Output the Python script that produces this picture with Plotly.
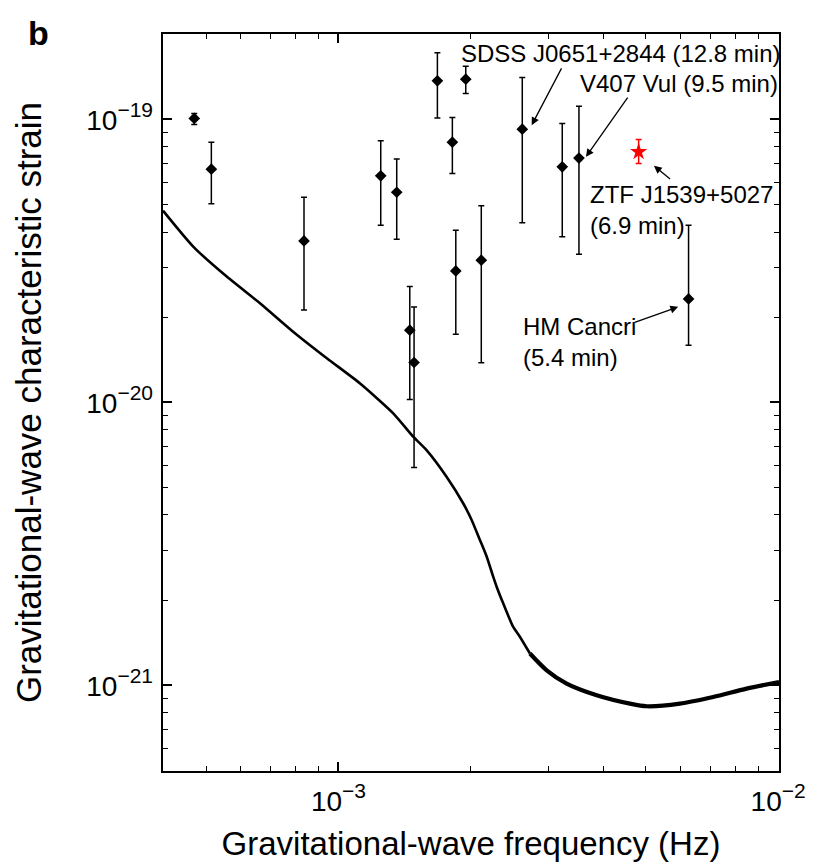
import plotly.graph_objects as go

# Verification binaries (black diamonds)
freq = [4.70e-4, 5.14e-4, 8.35e-4, 1.248e-3, 1.357e-3, 1.453e-3, 1.486e-3, 1.679e-3,
        1.816e-3, 1.849e-3, 1.948e-3, 2.113e-3, 2.619e-3, 3.229e-3, 3.524e-3, 6.256e-3]
strain = [1.008e-19, 6.67e-20, 3.72e-20, 6.32e-20, 5.53e-20, 1.80e-20, 1.383e-20, 1.369e-19,
          8.31e-20, 2.915e-20, 1.388e-19, 3.18e-20, 9.24e-20, 6.80e-20, 7.30e-20, 2.32e-20]
strain_hi = [1.05e-19, 8.31e-20, 5.31e-20, 8.40e-20, 7.24e-20, 2.57e-20, 2.175e-20, 1.72e-19,
             1.016e-19, 4.06e-20, 1.543e-19, 4.95e-20, 1.407e-19, 9.68e-20, 1.114e-19, 4.23e-20]
strain_lo = [9.6e-20, 5.03e-20, 2.12e-20, 4.23e-20, 3.77e-20, 1.023e-20, 5.88e-21, 1.011e-19,
             6.44e-20, 1.741e-20, 1.236e-19, 1.379e-20, 4.31e-20, 3.85e-20, 3.34e-20, 1.592e-20]

# ZTF J1539+5027 (red)
ztf_freq = [4.817e-3]
ztf_strain = [7.68e-20]
ztf_hi = [8.50e-20]
ztf_lo = [6.99e-20]

# LISA sensitivity curve (smooth low-frequency part)
curve_f = [3.99e-4, 4.68e-4, 5.58e-4, 6.64e-4, 7.90e-4, 9.41e-4, 1.120e-3, 1.334e-3, 1.481e-3,
           1.588e-3, 1.763e-3, 1.923e-3, 2.010e-3, 2.099e-3, 2.175e-3, 2.250e-3,
           2.291e-3, 2.371e-3, 2.498e-3, 2.588e-3, 2.726e-3]
curve_h = [4.76e-20, 3.545e-20, 2.777e-20, 2.236e-20, 1.774e-20, 1.432e-20, 1.166e-20, 9.13e-21,
           7.55e-21, 6.77e-21, 5.45e-21, 4.39e-21, 3.833e-21, 3.256e-21, 2.842e-21,
           2.415e-21, 2.226e-21, 1.944e-21, 1.607e-21, 1.482e-21, 1.295e-21]
# LISA sensitivity curve (noisy high-frequency part)
noisy_f = [2.726e-3, 2.976e-3, 3.304e-3, 3.867e-3, 4.603e-3, 5.022e-3, 5.978e-3, 7.116e-3,
           8.477e-3, 1.005e-2]
noisy_h = [1.295e-21, 1.130e-21, 1.014e-21, 9.22e-22, 8.61e-22, 8.43e-22, 8.61e-22, 9.09e-22,
           9.73e-22, 1.027e-21]

# tick positions and labels
SUP = "<span style='font-size:28px'>10</span><sup>−{}</sup>"
y_major = [1e-21, 1e-20, 1e-19]
y_major_text = [SUP.format(e) for e in ("21", "20", "19")]
x_major = [1e-3, 1e-2]
x_major_text = [SUP.format(e) for e in ("3", "2")]
y_minor = [k * 10.0 ** n for n in range(-22, -18) for k in range(2, 10)]
x_minor = [k * 10.0 ** n for n in range(-4, -2) for k in range(2, 10)]

FONT = "Liberation Sans, Arial, Helvetica, sans-serif"

fig = go.Figure()

fig.add_trace(go.Scatter(
    x=curve_f, y=curve_h, mode="lines",
    line=dict(color="black", width=2.6, shape="spline", smoothing=0.6),
    showlegend=False, hoverinfo="skip"))
fig.add_trace(go.Scatter(
    x=noisy_f, y=noisy_h, mode="lines",
    line=dict(color="black", width=4.2, shape="spline", smoothing=0.8),
    showlegend=False, hoverinfo="skip"))

fig.add_trace(go.Scatter(
    x=freq, y=strain, mode="markers",
    marker=dict(symbol="diamond", size=9, color="black"),
    error_y=dict(type="data", symmetric=False,
                 array=[h - s for h, s in zip(strain_hi, strain)],
                 arrayminus=[s - l for s, l in zip(strain, strain_lo)],
                 color="black", thickness=1.5, width=3),
    showlegend=False))

fig.add_trace(go.Scatter(
    x=ztf_freq, y=ztf_strain, mode="markers",
    marker=dict(symbol="star", size=13, color="red"),
    error_y=dict(type="data", symmetric=False,
                 array=[h - s for h, s in zip(ztf_hi, ztf_strain)],
                 arrayminus=[s - l for s, l in zip(ztf_strain, ztf_lo)],
                 color="red", thickness=1.5, width=3),
    showlegend=False))

ann_font = dict(family=FONT, size=24, color="black")
# text labels (log10 coordinates on log axes)
labels = [
    ("SDSS J0651+2844 (12.8 min)", -2.7257, -18.7656),
    ("V407 Vul (9.5 min)", -2.4545, -18.8727),
    ("ZTF J1539+5027<br>(6.9 min)", -2.4318, -19.3207),
    ("HM Cancri<br>(5.4 min)", -2.5855, -19.7849),
]
for txt, lx, ly in labels:
    fig.add_annotation(x=lx, y=ly, xref="x", yref="y", text=txt, showarrow=False,
                       xanchor="left", yanchor="middle", align="left", font=ann_font)

arrows = [
    (-2.5605, -19.0202, 30.6, -58.3),
    (-2.4370, -19.1322, 42.7, -60.7),
    (-2.2825, -19.1640, 17.7, 14.3),
    (-2.2273, -19.6625, -45.0, 16.0),
]
for hx, hy, ax, ay in arrows:
    fig.add_annotation(x=hx, y=hy, xref="x", yref="y", ax=ax, ay=ay, axref="pixel", ayref="pixel",
                       text="", showarrow=True, arrowhead=2, arrowsize=1.2, arrowwidth=1.3,
                       arrowcolor="black")

axis_common = dict(
    type="log", showgrid=False, zeroline=False, showline=True, linecolor="black", linewidth=2,
    mirror="ticks", ticks="inside", ticklen=9, tickwidth=1.5, tickcolor="black",
    tickmode="array",
    tickfont=dict(family=FONT, size=30, color="black"),
)
minor_common = dict(ticks="inside", ticklen=5, tickwidth=1.3, tickcolor="black", showgrid=False)

fig.update_xaxes(**axis_common, range=[-3.399, -1.998],
                 tickvals=x_major, ticktext=x_major_text, ticklabelstandoff=2,
                 minor=dict(tickvals=x_minor, **minor_common),
                 title=dict(text="Gravitational-wave frequency (Hz)",
                            font=dict(family=FONT, size=33, color="black"), standoff=16))
fig.update_yaxes(**axis_common, range=[-21.303, -18.698],
                 tickvals=y_major, ticktext=y_major_text, ticklabelstandoff=2,
                 minor=dict(tickvals=y_minor, **minor_common),
                 title=dict(text="Gravitational-wave characteristic strain",
                            font=dict(family=FONT, size=35, color="black"), standoff=34))

fig.update_layout(
    width=826, height=866,
    margin=dict(l=163, r=47, t=34, b=95, autoexpand=False),
    plot_bgcolor="white", paper_bgcolor="white",
    font=dict(family=FONT, color="black"),
)
# panel label
fig.add_annotation(x=-0.222, y=1.03, xref="paper", yref="paper", text="<b>b</b>",
                   showarrow=False, xanchor="left", yanchor="top",
                   font=dict(family=FONT, size=34, color="black"))

fig.write_html("out.html")
